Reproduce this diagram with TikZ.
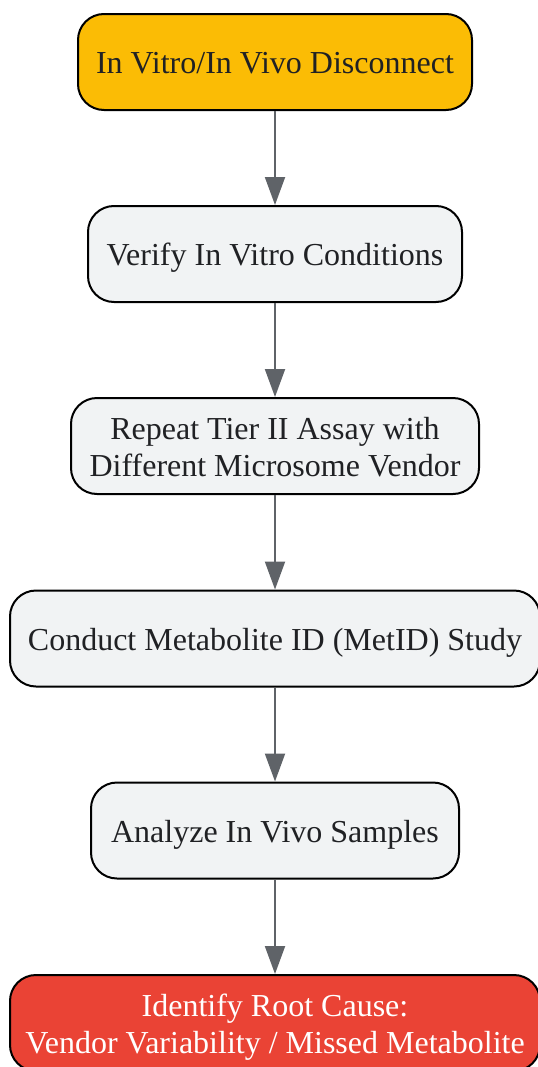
\documentclass[tikz,border=0pt]{standalone}
\usepackage{fontspec}
\setmainfont{Liberation Serif}
\usetikzlibrary{arrows.meta}
\definecolor{txt}{HTML}{202124}
\definecolor{grayfill}{HTML}{F1F3F4}
\definecolor{orangefill}{HTML}{FBBC05}
\definecolor{redfill}{HTML}{EA4335}
\definecolor{arrowc}{HTML}{5F6368}
\tikzset{
  box/.style={draw=black, line width=1.5pt, rounded corners=19.5pt, minimum height=72pt,
    align=center, inner sep=0pt, text=txt, font=\fontsize{24}{27.75}\selectfont,
    text height=17.5pt, text depth=0pt},
  twoline/.style={text height=45.5pt, text depth=0pt},
  graybox/.style={box, fill=grayfill},
  conn/.style={draw=arrowc, line width=1.5pt, -{Triangle[width=15pt,length=21pt]}}
}
\begin{document}
\begin{tikzpicture}[x=0.75pt,y=-0.75pt]
\useasboundingbox (0,0) rectangle (538,1067);
\clip (0,0) rectangle (538,1067);
\node[box, fill=orangefill, minimum width=295.5pt] (n1) at (275,62) {In Vitro/In Vivo Disconnect};
\node[graybox, minimum width=280.5pt] (n2) at (275,254) {Verify In Vitro Conditions};
\node[graybox, twoline, minimum width=306pt] (n3) at (275,446) {Repeat Tier II Assay with\\Different Microsome Vendor};
\node[graybox, minimum width=397.5pt] (n4) at (275,638.5) {Conduct Metabolite ID (MetID) Study};
\node[graybox, minimum width=276pt] (n5) at (275,830.5) {Analyze In Vivo Samples};
\node[box, twoline, fill=redfill, text=white, minimum width=397.5pt] (n6) at (275,1023) {Identify Root Cause:\\Vendor Variability / Missed Metabolite};
\draw[conn] (n1) -- (n2);
\draw[conn] (n2) -- (n3);
\draw[conn] (n3) -- (n4);
\draw[conn] (n4) -- (n5);
\draw[conn] (n5) -- (n6);
\end{tikzpicture}
\end{document}
